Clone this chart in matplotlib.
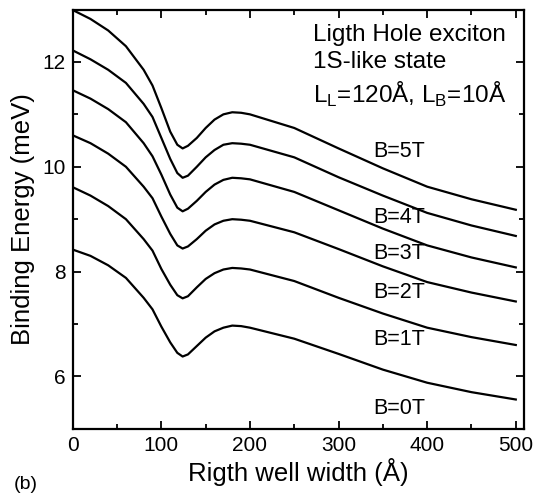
import matplotlib.pyplot as plt
from matplotlib.ticker import MultipleLocator

plt.rcParams['font.family'] = ['Liberation Sans', 'DejaVu Sans']

# well width (Angstrom)
x = [0, 20, 40, 60, 80, 90, 100, 110, 118, 124, 130, 140, 150, 160, 170, 180, 190,
     200, 250, 300, 350, 400, 450, 500]

# binding energy (meV) for each magnetic field
e_5T = [12.99, 12.82, 12.60, 12.30, 11.85, 11.55, 11.12, 10.67, 10.42, 10.35, 10.40,
        10.55, 10.74, 10.90, 11.00, 11.04, 11.03, 11.00, 10.74, 10.35, 9.97, 9.62,
        9.38, 9.18]
e_4T = [12.22, 12.05, 11.85, 11.60, 11.20, 10.95, 10.55, 10.15, 9.88, 9.79, 9.83,
        10.00, 10.18, 10.32, 10.42, 10.45, 10.44, 10.42, 10.18, 9.80, 9.45, 9.12,
        8.88, 8.68]
e_3T = [11.46, 11.30, 11.10, 10.85, 10.45, 10.20, 9.85, 9.47, 9.22, 9.15, 9.20,
        9.35, 9.52, 9.66, 9.75, 9.79, 9.78, 9.76, 9.52, 9.17, 8.82, 8.50,
        8.27, 8.08]
e_2T = [10.60, 10.45, 10.25, 10.00, 9.62, 9.40, 9.05, 8.72, 8.50, 8.44, 8.48,
        8.62, 8.78, 8.90, 8.97, 9.00, 8.99, 8.97, 8.75, 8.43, 8.10, 7.80,
        7.60, 7.43]
e_1T = [9.61, 9.45, 9.25, 9.00, 8.62, 8.40, 8.05, 7.75, 7.55, 7.49, 7.53,
        7.70, 7.86, 7.97, 8.04, 8.07, 8.06, 8.04, 7.82, 7.50, 7.20, 6.93,
        6.75, 6.60]
e_0T = [8.42, 8.30, 8.12, 7.88, 7.50, 7.28, 6.95, 6.65, 6.45, 6.38, 6.42,
        6.58, 6.74, 6.86, 6.93, 6.97, 6.96, 6.93, 6.72, 6.43, 6.13, 5.88,
        5.70, 5.56]

curves = [e_5T, e_4T, e_3T, e_2T, e_1T, e_0T]
labels = ['B=5T', 'B=4T', 'B=3T', 'B=2T', 'B=1T', 'B=0T']
label_y = [10.3, 9.04, 8.35, 7.6, 6.7, 5.38]

fig = plt.figure(figsize=(5.35, 5.01), dpi=100)
ax = fig.add_axes([0.136, 0.144, 0.843, 0.837])

for e in curves:
    ax.plot(x, e, color='black', lw=1.6)

for lab, ly in zip(labels, label_y):
    ax.text(368, ly, lab, fontsize=15.5, ha='center', va='center')

ax.text(271, 12.72, 'Ligth Hole exciton\n1S-like state\n'
        r'L$_\mathregular{L}$=120Å, L$_\mathregular{B}$=10Å',
        fontsize=17.5, ha='left', va='top', linespacing=1.3)

ax.set_xlim(0, 509)
ax.set_ylim(5, 13)
ax.xaxis.set_major_locator(MultipleLocator(100))
ax.xaxis.set_minor_locator(MultipleLocator(50))
ax.yaxis.set_major_locator(MultipleLocator(2))
ax.yaxis.set_minor_locator(MultipleLocator(1))
ax.tick_params(which='both', direction='in', top=True, right=True, width=1.3)
ax.tick_params(which='major', length=6, labelsize=15, pad=5)
ax.tick_params(which='minor', length=3.5)
for s in ax.spines.values():
    s.set_linewidth(1.6)

ax.set_xlabel('Rigth well width (Å)', fontsize=18.5, labelpad=2)
ax.set_ylabel('Binding Energy (meV)', fontsize=18.5, labelpad=5)
fig.text(0.025, 0.024, '(b)', fontsize=14)

plt.savefig('out.png', dpi=100)
